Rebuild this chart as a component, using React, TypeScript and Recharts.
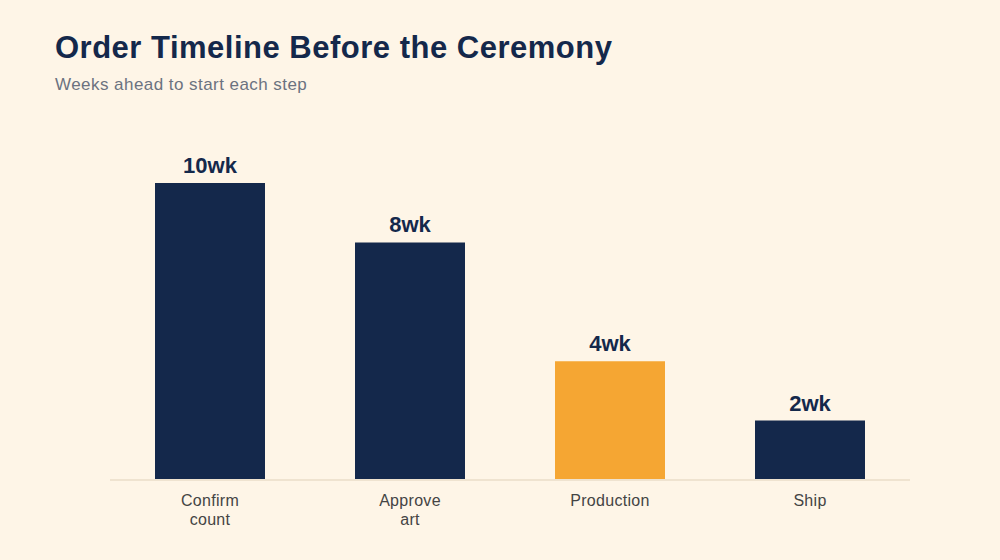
import { Bar, BarChart, Cell, LabelList, XAxis, YAxis } from "recharts";

const steps = ["Confirm count", "Approve art", "Production", "Ship"];
const weeksAhead = [10, 8, 4, 2];
const highlighted = ["Production"];

const NAVY = "#14284B";
const ORANGE = "#F5A633";
const BG = "#FEF5E7";
const FONT = "Liberation Sans, Arial, sans-serif";

const data = steps.map((step, i) => ({ step, weeks: weeksAhead[i] }));

function StepTick(props: any) {
  const { x, y, payload } = props;
  const value = String(payload.value);
  const lines = value === "Production" ? [value] : value.split(" ");
  return (
    <text
      x={x}
      y={y}
      textAnchor="middle"
      fill="#444444"
      fontSize={16}
      letterSpacing={0.3}
      fontFamily={FONT}
    >
      {lines.map((line, i) => (
        <tspan key={line} x={x} y={y + 18 + i * 19}>
          {line}
        </tspan>
      ))}
    </text>
  );
}

export default function App() {
  return (
    <div
      style={{
        position: "fixed",
        left: 0,
        top: 0,
        width: 1000,
        height: 560,
        background: BG,
        fontFamily: FONT,
      }}
    >
      <div
        style={{
          position: "absolute",
          left: 55,
          top: 32,
          fontSize: 31,
          lineHeight: 1,
          fontWeight: 700,
          letterSpacing: 0.5,
          color: NAVY,
          whiteSpace: "nowrap",
        }}
      >
        Order Timeline Before the Ceremony
      </div>
      <div
        style={{
          position: "absolute",
          left: 55,
          top: 76,
          fontSize: 17,
          lineHeight: 1,
          letterSpacing: 0.45,
          color: "#6B7280",
          whiteSpace: "nowrap",
        }}
      >
        Weeks ahead to start each step
      </div>
      <div style={{ position: "absolute", left: 0, top: 0 }}>
        <BarChart
          width={1000}
          height={560}
          data={data}
          margin={{ top: 183, right: 90, left: 110, bottom: 50 }}
        >
          <XAxis
            dataKey="step"
            height={30}
            tickLine={false}
            axisLine={{ stroke: "#EFE3D0", strokeWidth: 2 }}
            tick={<StepTick />}
            interval={0}
          />
          <YAxis hide domain={[0, 10]} />
          <Bar dataKey="weeks" barSize={110} isAnimationActive={false}>
            {data.map((d) => (
              <Cell
                key={d.step}
                fill={highlighted.includes(d.step) ? ORANGE : NAVY}
              />
            ))}
            <LabelList
              dataKey="weeks"
              position="top"
              offset={10}
              formatter={(v: any) => `${v}wk`}
              fill={NAVY}
              fontSize={22}
              fontWeight={700}
              fontFamily={FONT}
            />
          </Bar>
        </BarChart>
      </div>
    </div>
  );
}
